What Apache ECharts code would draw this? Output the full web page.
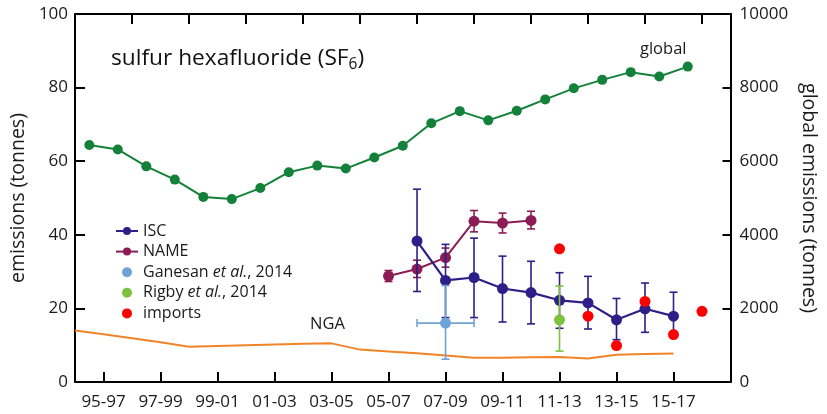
<!DOCTYPE html>
<html><head><meta charset="utf-8">
<script src="https://cdn.jsdelivr.net/npm/echarts@6/dist/echarts.min.js"></script>
<style>html,body{margin:0;padding:0;background:#fff}#c{width:827px;height:414px}</style>
</head><body><div id="c"></div>
<script>
// ---- data ----
const tickLabels = ['95-97','97-99','99-01','01-03','03-05','05-07','07-09','09-11','11-13','13-15','15-17'];
const tickYears = [1996,1998,2000,2002,2004,2006,2008,2010,2012,2014,2016];
const topTickYears = [1997,1999,2001,2003,2005,2007,2009,2011,2013,2015,2017];

const globalYears = [1995.5,1996.5,1997.5,1998.5,1999.5,2000.5,2001.5,2002.5,2003.5,2004.5,2005.5,2006.5,2007.5,2008.5,2009.5,2010.5,2011.5,2012.5,2013.5,2014.5,2015.5,2016.5];
const globalTonnes = [6440,6320,5860,5500,5030,4970,5270,5700,5880,5800,6100,6420,7030,7360,7110,7370,7680,7980,8210,8420,8300,8570];

const ngaYears = [1995,1996,1997,1998,1999,2000,2001,2002,2003,2004,2005,2006,2007,2008,2009,2010,2011,2012,2013,2014,2015,2016];
const ngaValues = [14.0,13.0,11.9,10.8,9.6,9.8,10.0,10.2,10.4,10.5,8.8,8.3,7.8,7.2,6.6,6.6,6.7,6.8,6.4,7.4,7.6,7.75];

const iscYears = [2007,2008,2009,2010,2011,2012,2013,2014,2015,2016];
const iscValues = [38.3,27.6,28.4,25.4,24.3,22.2,21.5,16.9,19.9,17.9];
const iscLow = [24.6,17.5,17.5,16.3,15.8,14.6,14.4,11.5,13.5,13.0];
const iscHigh = [52.4,37.4,39.1,34.2,32.8,29.7,28.7,22.7,26.9,24.4];

const nameYears = [2006,2007,2008,2009,2010,2011];
const nameValues = [28.8,30.7,33.8,43.7,43.2,43.9];
const nameLow = [27.3,28.4,31.2,40.8,40.5,41.6];
const nameHigh = [30.3,33.1,36.4,46.6,45.9,46.4];

const ganesanYears = [2008];
const ganesanValues = [16.0];
const ganesanLow = [6.2];
const ganesanHigh = [26.2];
const ganesanYearLow = [2007];
const ganesanYearHigh = [2009];

const rigbyYears = [2012];
const rigbyValues = [16.9];
const rigbyLow = [8.4];
const rigbyHigh = [26.1];

const importYears = [2012,2013,2014,2015,2016,2017];
const importValues = [36.2,17.9,9.9,21.9,12.9,19.2];

// ---- colours ----
const C = {
  isc: '#2e1e87', name: '#8c1c56', ganesan: '#6fa3d8', rigby: '#7ec13e',
  imports: '#ff0000', global: '#14813a', nga: '#f28428'
};
const FONT = '"Open Sans"';
const TXT = '#1a1a1a';

const zip = (a, b) => a.map((v, i) => [v, b[i]]);
const zip3 = (a, b, c) => a.map((v, i) => [v, b[i], c[i]]);

function vErr(color) {
  return function (params, api) {
    const x = api.value(0), lo = api.value(1), hi = api.value(2);
    const pLo = api.coord([x, lo]), pHi = api.coord([x, hi]);
    const w = 4;
    const style = { stroke: color, lineWidth: 1.6 };
    return { type: 'group', children: [
      { type: 'line', shape: { x1: pLo[0], y1: pLo[1], x2: pHi[0], y2: pHi[1] }, style },
      { type: 'line', shape: { x1: pLo[0] - w, y1: pLo[1], x2: pLo[0] + w, y2: pLo[1] }, style },
      { type: 'line', shape: { x1: pHi[0] - w, y1: pHi[1], x2: pHi[0] + w, y2: pHi[1] }, style }
    ]};
  };
}
function hErr(color) {
  return function (params, api) {
    const y = api.value(0), lo = api.value(1), hi = api.value(2);
    const pLo = api.coord([lo, y]), pHi = api.coord([hi, y]);
    const w = 4;
    const style = { stroke: color, lineWidth: 1.6 };
    return { type: 'group', children: [
      { type: 'line', shape: { x1: pLo[0], y1: pLo[1], x2: pHi[0], y2: pHi[1] }, style },
      { type: 'line', shape: { x1: pLo[0], y1: pLo[1] - w, x2: pLo[0], y2: pLo[1] + w }, style },
      { type: 'line', shape: { x1: pHi[0], y1: pHi[1] - w, x2: pHi[0], y2: pHi[1] + w }, style }
    ]};
  };
}

const chart = echarts.init(document.getElementById('c'), null, { renderer: 'canvas' });
const axisLineStyle = { color: '#000', width: 2 };
const option = {
  animation: false,
  backgroundColor: '#fff',
  textStyle: { fontFamily: FONT },
  grid: { left: 70, right: 84, top: 14, bottom: 32 },
  legend: {
    orient: 'vertical', left: 110, top: 218,
    itemWidth: 22, itemHeight: 10, itemGap: 4.6,
    data: ['ISC', 'NAME', 'Ganesan et al., 2014', 'Rigby et al., 2014', 'imports'],
    formatter: function (n) {
      if (n.indexOf('et al.') >= 0) {
        const parts = n.split('et al.');
        return '{r|' + parts[0] + '}{i|et al.}{r|' + parts[1] + '}';
      }
      return '{r|' + n + '}';
    },
    textStyle: {
      fontSize: 16, color: TXT, fontFamily: FONT, lineHeight: 16,
      rich: {
        r: { fontSize: 16, fontFamily: FONT, color: TXT, lineHeight: 16 },
        i: { fontSize: 16, fontFamily: FONT, color: TXT, fontStyle: 'italic', lineHeight: 16 }
      }
    }
  },
  xAxis: [{
    type: 'value', min: 1995, max: 2018, position: 'bottom',
    axisLine: { show: true, onZero: false, lineStyle: axisLineStyle },
    axisTick: { show: true, inside: true, length: 10, lineStyle: { color: '#000', width: 2 }, customValues: tickYears },
    axisLabel: {
      customValues: tickYears, margin: 12, fontSize: 17, color: TXT, fontFamily: FONT,
      formatter: function (v) { const i = tickYears.indexOf(Math.round(v)); return i >= 0 ? tickLabels[i] : ''; }
    },
    splitLine: { show: false }
  }, {
    type: 'value', min: 1995, max: 2018, position: 'top',
    axisLine: { show: true, onZero: false, lineStyle: axisLineStyle },
    axisTick: { show: true, inside: true, length: 10, lineStyle: { color: '#000', width: 2 }, customValues: topTickYears },
    axisLabel: { show: false },
    splitLine: { show: false }
  }],
  yAxis: [{
    type: 'value', min: 0, max: 100, interval: 20, position: 'left',
    name: 'emissions (tonnes)', nameLocation: 'middle', nameGap: 46,
    nameTextStyle: { fontSize: 19.5, color: TXT, fontFamily: FONT },
    axisLine: { show: true, lineStyle: axisLineStyle },
    axisTick: { show: true, inside: true, length: 10, lineStyle: { color: '#000', width: 2 } },
    axisLabel: { fontSize: 17, color: TXT, margin: 7, fontFamily: FONT },
    splitLine: { show: false }
  }, {
    type: 'value', min: 0, max: 10000, interval: 2000, position: 'right',
    name: 'global emissions (tonnes)', nameLocation: 'middle', nameGap: 66, nameRotate: -90,
    nameTextStyle: { fontSize: 19.5, color: TXT, fontFamily: FONT },
    axisLine: { show: true, lineStyle: axisLineStyle },
    axisTick: { show: true, inside: true, length: 8, lineStyle: { color: '#000', width: 2 } },
    axisLabel: { fontSize: 17, color: TXT, margin: 9, fontFamily: FONT, formatter: function (v) { return String(v); } },
    splitLine: { show: false }
  }],
  graphic: [
    { type: 'text', left: 111, top: 47, z: 10, style: {
      text: '{t|sulfur hexafluoride (SF}{s|6}{t|)}',
      rich: {
        t: { fontSize: 22.7, fontFamily: FONT, fill: '#111', lineHeight: 28 },
        s: { fontSize: 15.5, fontFamily: FONT, fill: '#111', lineHeight: 28, verticalAlign: 'bottom', padding: [9, 0, 0, 0] }
      }
    }},
    { type: 'text', left: 640, top: 41, z: 10, style: { text: 'global', fontSize: 16.5, fontFamily: FONT, fill: TXT } },
    { type: 'text', left: 310, top: 316, z: 10, style: { text: 'NGA', fontSize: 16.5, fontFamily: FONT, fill: TXT } }
  ],
  series: [
    { name: 'NGA', type: 'line', data: zip(ngaYears, ngaValues), showSymbol: false, symbol: 'none',
      lineStyle: { color: C.nga, width: 2 }, itemStyle: { color: C.nga }, z: 2 },
    { name: 'global', type: 'line', yAxisIndex: 1, data: zip(globalYears, globalTonnes),
      symbol: 'circle', symbolSize: 10, lineStyle: { color: C.global, width: 2 }, itemStyle: { color: C.global }, z: 3 },
    { name: 'NAME err', type: 'custom', data: zip3(nameYears, nameLow, nameHigh), renderItem: vErr(C.name),
      encode: { x: 0, y: [1, 2] }, z: 3 },
    { name: 'NAME', type: 'line', data: zip(nameYears, nameValues), symbol: 'circle', symbolSize: 11,
      lineStyle: { color: C.name, width: 2 }, itemStyle: { color: C.name }, z: 4 },
    { name: 'ISC err', type: 'custom', data: zip3(iscYears, iscLow, iscHigh), renderItem: vErr(C.isc),
      encode: { x: 0, y: [1, 2] }, z: 5 },
    { name: 'ISC', type: 'line', data: zip(iscYears, iscValues), symbol: 'circle', symbolSize: 11,
      lineStyle: { color: C.isc, width: 2.2 }, itemStyle: { color: C.isc }, z: 6 },
    { name: 'Ganesan err', type: 'custom', data: zip3(ganesanYears, ganesanLow, ganesanHigh), renderItem: vErr(C.ganesan),
      encode: { x: 0, y: [1, 2] }, z: 7 },
    { name: 'Ganesan herr', type: 'custom', data: zip3(ganesanValues, ganesanYearLow, ganesanYearHigh), renderItem: hErr(C.ganesan),
      encode: { y: 0, x: [1, 2] }, z: 7 },
    { name: 'Ganesan et al., 2014', type: 'scatter', data: zip(ganesanYears, ganesanValues), symbol: 'circle', symbolSize: 11,
      itemStyle: { color: C.ganesan, opacity: 1 }, z: 8 },
    { name: 'Rigby err', type: 'custom', data: zip3(rigbyYears, rigbyLow, rigbyHigh), renderItem: vErr(C.rigby),
      encode: { x: 0, y: [1, 2] }, z: 7 },
    { name: 'Rigby et al., 2014', type: 'scatter', data: zip(rigbyYears, rigbyValues), symbol: 'circle', symbolSize: 11,
      itemStyle: { color: C.rigby, opacity: 1 }, z: 8 },
    { name: 'imports', type: 'scatter', data: zip(importYears, importValues), symbol: 'circle', symbolSize: 11,
      itemStyle: { color: C.imports, opacity: 1 }, z: 9 }
  ]
};
chart.setOption(option);
</script>
</body></html>
